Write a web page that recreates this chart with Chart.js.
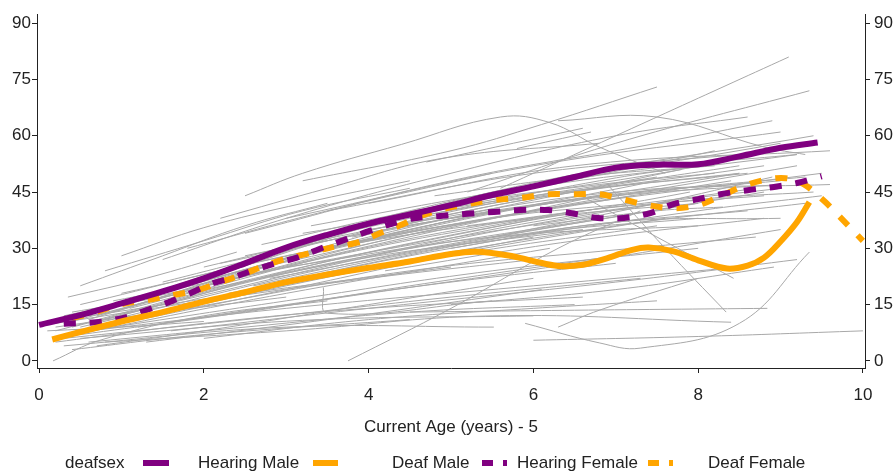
<!DOCTYPE html>
<html>
<head>
<meta charset="utf-8">
<script src="https://cdn.jsdelivr.net/npm/chart.js@4.4.1/dist/chart.umd.min.js"></script>
<style>
  html, body { margin:0; padding:0; background:#fff; }
  #wrap { position:relative; width:896px; height:472px; }
  #legend { position:absolute; left:0; top:0; width:896px; height:472px; pointer-events:none;
            font-family:"Liberation Sans", Arial, sans-serif; font-size:17px; color:#222; }
  #legend span.t { position:absolute; top:452px; line-height:22px; white-space:nowrap; }
  #legend i { position:absolute; top:460px; height:6px; display:block; }
</style>
</head>
<body>
<div id="wrap">
  <canvas id="c" width="896" height="472"></canvas>
  <div id="legend">
    <span class="t" style="left:65px">deafsex</span>
    <i style="left:143px;width:26px;background:#800080"></i>
    <span class="t" style="left:198px">Hearing Male</span>
    <i style="left:313px;width:25px;background:#FFA500"></i>
    <span class="t" style="left:392px">Deaf Male</span>
    <i style="left:482px;width:11px;background:#800080"></i>
    <i style="left:503px;width:4px;background:#800080"></i>
    <span class="t" style="left:517px">Hearing Female</span>
    <i style="left:648px;width:11px;background:#FFA500"></i>
    <i style="left:669px;width:4px;background:#FFA500"></i>
    <span class="t" style="left:708px">Deaf Female</span>
  </div>
</div>
<script>
// ---- Data ----
const xTicks = [0, 2, 4, 6, 8, 10];
const yTicks = [0, 15, 30, 45, 60, 75, 90];
const xTitle = 'Current Age (years) - 5';
const seriesNames = ['Hearing Male', 'Deaf Male', 'Hearing Female', 'Deaf Female'];

const hearingMaleX = [0,0.5,1,1.5,2,2.5,3,3.5,4,4.5,5,5.5,6,6.5,7,7.5,8,8.5,9,9.45];
const hearingMaleY = [9.6,12.2,15.3,18.5,22,26,30.2,33.6,36.6,39,41.5,44.2,46.5,49,51.5,52.3,52.4,54.5,56.8,58.2];

const deafMaleX = [0.16,0.5,1,1.5,2,2.5,3,3.5,4,4.5,5,5.3,5.7,6,6.3,6.6,6.9,7.2,7.4,7.7,8,8.35,8.6,8.8,9,9.2,9.35];
const deafMaleY = [5.7,7.7,10.5,13,15.8,18.3,21,23,24.8,26.5,28.5,29.1,28.1,26.6,25.3,25.6,27.4,29.6,30.2,29.2,26.8,24.6,25.4,27.5,31.8,37,42.3];

const hearingFemaleX = [0.3,0.7,1.05,1.3,1.57,1.8,2.1,2.35,2.62,2.9,3.13,3.41,3.74,4.02,4.5,4.87,5.2,5.52,5.84,6.18,6.5,6.78,7.1,7.42,7.7,8,8.27,8.6,8.9,9.2,9.5];
const hearingFemaleY = [9.9,10.3,11.6,13.5,15.6,17.7,20.6,22.2,24.3,26.2,27.5,29.9,32.5,34.7,37.8,38.6,39.2,39.7,40.2,40.2,39.2,38.1,38.1,39.4,41.8,43.1,44.4,45.5,46.3,47.4,49.2];

const deafFemaleX = [0.4,0.69,1.0,1.29,1.62,1.92,2.19,2.47,2.71,2.99,3.26,3.54,3.86,4.12,4.39,4.63,4.91,5.21,5.52,5.84,6.17,6.49,6.8,7.08,7.39,7.7,8,8.27,8.52,8.78,9.06,9.28,9.53,9.71,10];
const deafFemaleY = [11.4,13,15.1,16.1,17.5,18.8,20.9,23,25.1,27.2,28.6,30.2,31.5,33.9,36.2,38.6,40.5,41.8,42.9,43.4,44.4,44.4,44.4,43.1,41.5,40.7,41.5,43.9,46.3,48.1,48.7,47.1,42.6,38.6,32];

// individual child trajectories (thin grey lines), [age, score] pairs
const subjectTrajectories = [
  [[0.2,8],[3,24],[6.5,40]], [[0.3,10],[3.5,28],[7,45]], [[0.5,12],[4,33],[8,52]],
  [[0.4,7],[3,20],[6,33]], [[0.6,11],[3.5,30],[7.5,48]], [[0.8,14],[4,36],[8.2,56]],
  [[1.0,15],[4.5,40],[9,58]], [[0.2,6],[3,18],[6.2,30]], [[0.5,9],[4,27],[8,42]],
  [[0.7,12],[3.8,31],[7.2,44]], [[1.2,16],[4.2,37],[7.8,51]], [[0.3,11],[2.8,26],[5.5,40]],
  [[0.9,13],[4.5,35],[8.5,50]], [[0.4,9],[3.3,25],[6.8,38]], [[1.5,18],[5,42],[9.2,55]],
  [[1.1,14],[4.6,33],[8.7,46]], [[0.6,10],[3.6,26],[6.6,35]], [[2.0,22],[5.5,45],[9.4,60]],
  [[1.8,20],[5.2,40],[8.8,52]], [[0.8,11],[4,29],[7.9,45]],
  [[3.2,48],[5,56],[6.1,63],[7.5,73]], [[2.5,44],[3.2,50],[4.4,57.7],[5.6,65],[6.2,63.5],[6.8,57],[7.6,50]],
  [[5.6,46],[7.6,66],[9.1,81]], [[5.2,45],[7,58],[9.35,72]], [[6.3,64],[7.5,65],[8.8,57],[9.3,55]],
  [[1.0,28],[2.0,35.5],[3.2,42],[4.5,48]], [[0.35,17],[1.3,22],[2.4,29]], [[0.8,24],[2,32],[3.2,40],[4.5,46]],
  [[2.2,38],[3.5,46],[4.9,54],[6.8,58]], [[4.7,53],[6.6,62]], [[5.8,56.6],[6.7,61]],
  [[1.5,27],[3,38],[5,50],[7,60],[8.6,65]], [[2.5,34],[5,48],[7.5,58],[8.9,64]], [[3,38],[6,52],[9,61]],
  [[4,42],[6.5,52],[9.6,56]], [[0.5,20],[1.5,28],[2.5,36],[3.5,42]], [[1.8,30],[3.5,40],[5.5,50]],
  [[3.5,40],[6,50],[8.5,55]],
  [[0.17,0],[0.74,5.5],[2,12],[3.5,16]], [[3.75,0],[5,14],[6.3,30],[7.3,40]],
  [[5.9,10],[6.8,4.8],[7.3,3.4],[8.5,10],[9.35,29]], [[6.0,5.5],[8,6.5],[10,8]],
  [[6.9,47],[7.6,30],[8.34,13]], [[4.5,13],[6.5,13.5],[8.84,14]], [[6.5,45],[7.5,33],[8.43,22]],
  [[0.3,4],[3,9],[5.52,9]], [[0.5,6],[3.2,10.8],[6,12]], [[0.8,5],[3,8],[5.5,12],[8.4,10.3]],
  [[5,15],[7,19],[8.92,25]], [[0.4,3],[2,7],[4.5,11]], [[0.3,6],[2.5,11],[5,17],[7.3,22]],
  [[0.6,8],[3,14],[6,20],[8.5,25]], [[1.3,5],[3.5,11],[6.1,19]], [[0.2,5],[2,10],[4,14],[6.6,17]],
  [[2,6],[4,11],[6,14],[7.5,16]], [[0.9,9],[3,16],[5.5,24],[8,30]], [[0.5,7],[2.5,13],[4.5,20],[7,28]],
  [[1.5,10],[4,18],[6.5,26],[9,35]], [[0.7,4],[2,8],[4,15],[6,22]], [[1.6,8],[4,14],[7,21],[9.2,27]],
  [[0.2,10],[2,16],[4,22],[6,27]], [[0.6,12],[2.5,18],[5,25]], [[6.3,9],[6.8,13.5],[8,22]],
  [[0.1,8],[1,9],[2,10.5]], [[3.45,19.6],[3.5,12.7],[5.5,16]],
  [[2,20],[5,36],[8.4,48]], [[2.5,24],[5.5,38],[9.2,52]], [[3,28],[6,40],[9.5,50]],
  [[2.3,18],[5,30],[8,40],[9.5,44]], [[1.2,12],[4,25],[7,36],[9.3,42]], [[3.5,30],[6.5,43],[9,48]],
  [[4,35],[7,45],[9.6,47]], [[1.5,15],[4.5,30],[7.5,42],[9,46]], [[2.8,22],[5.8,34],[8.8,45]],
  [[4.5,38],[6.8,48],[8.3,53]], [[5,30],[7,37],[9,38]], [[3.2,34],[6,44],[8.6,50]],
  [[1,18],[3.5,30],[6,38],[8,42]], [[4.2,24],[6.5,32],[8.8,38]], [[5.5,33],[7.5,42],[8.9,49]],
  [[6,36],[7.5,40],[8.3,41]], [[2,25],[4.5,38],[7,47],[8.5,52]], [[0.5,15],[3,28],[5.5,38],[7.2,42]],
  [[3,25],[5.5,33],[8,36]], [[1.8,14],[4.5,24],[7.2,30],[8.7,33]],
  [[0.3,12],[2,20],[4,30],[6,38]], [[1,10],[3,19],[5,28],[7.5,36]], [[2.5,28],[4.5,37],[6.5,45],[8.5,50]],
  [[3,30],[5,38],[7,44],[9,47]], [[2,16],[4,26],[6,34],[8,38]], [[1.5,21],[3.5,32],[5.5,42],[7.5,49]],
  [[0.4,13],[2,19],[4,28]], [[2.7,31],[4.8,41],[6.8,47],[8.2,50]], [[3.3,36],[5.3,44],[7.3,51],[9.2,55]],
  [[1.2,9],[3,15],[5,21],[7,26]], [[0.6,5],[2.5,9],[4.5,13],[6.5,15]], [[4,28],[6,37],[8,43],[9.4,45]],
  [[2.2,26],[4.2,35],[6.2,42]], [[3.8,33],[5.8,41],[7.8,46],[9.3,49]], [[0.9,16],[2.8,24],[4.8,32],[6.8,39]],
  [[1.4,13],[3.4,22],[5.4,30],[7.6,38]], [[4.8,44],[6.5,49],[8.2,52]], [[5.2,36],[7,41],[8.8,44]],
  [[2.6,20],[4.6,29],[6.6,36],[8.6,40]], [[0.2,9],[1.5,13],[3,17]]
];

// ---- Build chart ----
const FONT = '"Liberation Sans", Arial, sans-serif';
const INK = '#222';
const PURPLE = '#800080';
const ORANGE = '#FFA500';
const GREY = '#a8a8a8';

const zip = (xs, ys) => xs.map((x, i) => ({x, y: ys[i]}));

const mainSets = [
  {label: seriesNames[0], data: zip(hearingMaleX, hearingMaleY), borderColor: PURPLE, borderDash: []},
  {label: seriesNames[1], data: zip(deafMaleX, deafMaleY), borderColor: ORANGE, borderDash: []},
  {label: seriesNames[2], data: zip(hearingFemaleX, hearingFemaleY), borderColor: PURPLE, borderDash: [12, 14]},
  {label: seriesNames[3], data: zip(deafFemaleX, deafFemaleY), borderColor: ORANGE, borderDash: [12, 14]}
].map((d, i) => Object.assign(d, {borderWidth: 6, pointRadius: 0, tension: 0.35, fill: false,
  borderCapStyle: 'butt', order: 0}));

const greySets = subjectTrajectories.map((tr, i) => ({
  label: 'id' + i,
  data: tr.map(p => ({x: p[0], y: p[1]})),
  borderColor: GREY, borderWidth: 1, pointRadius: 0, tension: 0.4, fill: false, order: 1
}));

const setTicks = vals => s => { s.ticks = vals.map(v => ({value: v})); };

const yAxisCommon = {
  type: 'linear', min: -1.9, max: 92.4,
  afterBuildTicks: setTicks(yTicks),
  grid: {display: true, drawOnChartArea: false, drawTicks: true, tickLength: 5, tickColor: INK, tickWidth: 1},
  border: {display: true, color: INK, width: 1},
  ticks: {color: INK, font: {size: 17, family: FONT}, autoSkip: false}
};

new Chart(document.getElementById('c'), {
  type: 'line',
  data: {datasets: [...mainSets, ...greySets]},
  options: {
    responsive: false,
    animation: false,
    devicePixelRatio: 1,
    layout: {padding: {top: 12, left: 0, right: 0, bottom: 0}},
    plugins: {legend: {display: false}, tooltip: {enabled: false}},
    scales: {
      x: {
        type: 'linear', position: 'bottom', min: -0.025, max: 10.025,
        afterBuildTicks: setTicks(xTicks),
        afterFit: s => { s.height = 104; },
        grid: {display: true, drawOnChartArea: false, drawTicks: true, tickLength: 5, tickColor: INK, tickWidth: 1},
        border: {display: true, color: INK, width: 1},
        ticks: {color: INK, padding: 12, maxRotation: 0, autoSkip: false, font: {size: 17, family: FONT}},
        title: {display: true, text: xTitle, color: INK, font: {size: 17, family: FONT}, padding: {top: 0, bottom: 34}}
      },
      y: Object.assign({}, yAxisCommon, {position: 'left', afterFit: s => { s.width = 37; },
        ticks: Object.assign({}, yAxisCommon.ticks, {padding: 1})}),
      y2: Object.assign({}, yAxisCommon, {position: 'right', afterFit: s => { s.width = 31; },
        ticks: Object.assign({}, yAxisCommon.ticks, {padding: 4})})
    }
  }
});
</script>
</body>
</html>
